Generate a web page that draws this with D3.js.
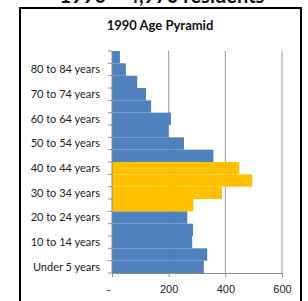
<!DOCTYPE html>
<html>
<head>
<meta charset="utf-8">
<script src="https://cdn.jsdelivr.net/npm/d3@7"></script>
<style>
  body { margin: 0; background: #fff; }
  svg { display: block; font-family: Lato, "Open Sans", sans-serif; }
  .axis-text { font-size: 11px; fill: #222; }
</style>
</head>
<body>
<div id="chart"></div>
<script>
// age groups, bottom to top
const ageGroups = ['Under 5 years', '5 to 9 years', '10 to 14 years', '15 to 19 years',
  '20 to 24 years', '25 to 29 years', '30 to 34 years', '35 to 39 years',
  '40 to 44 years', '45 to 49 years', '50 to 54 years', '55 to 59 years',
  '60 to 64 years', '65 to 69 years', '70 to 74 years', '75 to 79 years',
  '80 to 84 years', '85 years and over'];
const residents = [324, 336, 283, 286, 266, 287, 388, 495, 449, 358, 254, 199, 208, 138, 120, 89, 49, 28];
const highlighted = ['25 to 29 years', '30 to 34 years', '35 to 39 years', '40 to 44 years'];
const xTicks = [0, 200, 400, 600];

const width = 308, height = 301;
const plot = {left: 112, right: 282, top: 51, bottom: 273};

const svg = d3.select('#chart').append('svg')
  .attr('width', width)
  .attr('height', height);

// page heading cut off at the top of the shot
svg.append('text')
  .attr('x', 162)
  .attr('y', 3)
  .attr('text-anchor', 'middle')
  .attr('font-size', 20)
  .attr('font-weight', 'bold')
  .attr('fill', '#111')
  .text('1990 – 4,970 residents');

// chart frame
svg.append('rect')
  .attr('x', 20)
  .attr('y', 8)
  .attr('width', 281)
  .attr('height', 300)
  .attr('fill', '#fff')
  .attr('stroke', '#000')
  .attr('stroke-width', 2);

svg.append('text')
  .attr('x', 160)
  .attr('y', 30)
  .attr('text-anchor', 'middle')
  .attr('font-size', 13)
  .attr('font-weight', 'bold')
  .attr('fill', '#111')
  .text('1990 Age Pyramid');

const x = d3.scaleLinear().domain([0, 600]).range([plot.left, plot.right]);
const y = d3.scaleBand().domain(ageGroups).range([plot.bottom, plot.top]).padding(0);

// vertical gridlines
svg.selectAll('line.grid')
  .data(xTicks.slice(1)).enter()
  .append('line')
  .attr('class', 'grid')
  .attr('x1', d => x(d)).attr('x2', d => x(d))
  .attr('y1', plot.top).attr('y2', plot.bottom)
  .attr('stroke', '#9a9a9a')
  .attr('stroke-width', 1);

// bars
svg.selectAll('rect.bar')
  .data(ageGroups).enter()
  .append('rect')
  .attr('class', 'bar')
  .attr('x', x(0))
  .attr('y', d => y(d))
  .attr('width', (d, i) => x(residents[i]) - x(0))
  .attr('height', y.bandwidth())
  .attr('fill', d => highlighted.includes(d) ? '#FFC000' : '#4F81BD');

// y axis with ticks at band edges
svg.append('line')
  .attr('x1', plot.left).attr('x2', plot.left)
  .attr('y1', plot.top).attr('y2', plot.bottom)
  .attr('stroke', '#8c8c8c');

const edges = ageGroups.map(d => y(d) + y.bandwidth()).concat([plot.top]);
svg.selectAll('line.ytick')
  .data(edges).enter()
  .append('line')
  .attr('class', 'ytick')
  .attr('x1', plot.left - 4).attr('x2', plot.left)
  .attr('y1', d => d).attr('y2', d => d)
  .attr('stroke', '#8c8c8c');

svg.selectAll('text.ylabel')
  .data(ageGroups.filter((d, i) => i % 2 === 0)).enter()
  .append('text')
  .attr('class', 'axis-text ylabel')
  .attr('x', 100)
  .attr('y', d => y(d) + y.bandwidth() / 2)
  .attr('dy', '0.35em')
  .attr('text-anchor', 'end')
  .text(d => d);

// x axis
const xAxis = d3.axisBottom(x)
  .tickValues(xTicks)
  .tickSize(4)
  .tickFormat(d => d === 0 ? '-' : d);

const axisX = svg.append('g')
  .attr('transform', 'translate(0,' + plot.bottom + ')')
  .call(xAxis);

axisX.select('path').attr('stroke', '#8c8c8c').attr('d', 'M' + plot.left + ',0.5H' + plot.right);
axisX.selectAll('g.tick line').attr('stroke', '#8c8c8c');
axisX.selectAll('g.tick text')
  .attr('class', 'axis-text')
  .attr('font-family', null)
  .attr('y', 12)
  .attr('dx', d => d === 0 ? -4 : 0);
</script>
</body>
</html>
